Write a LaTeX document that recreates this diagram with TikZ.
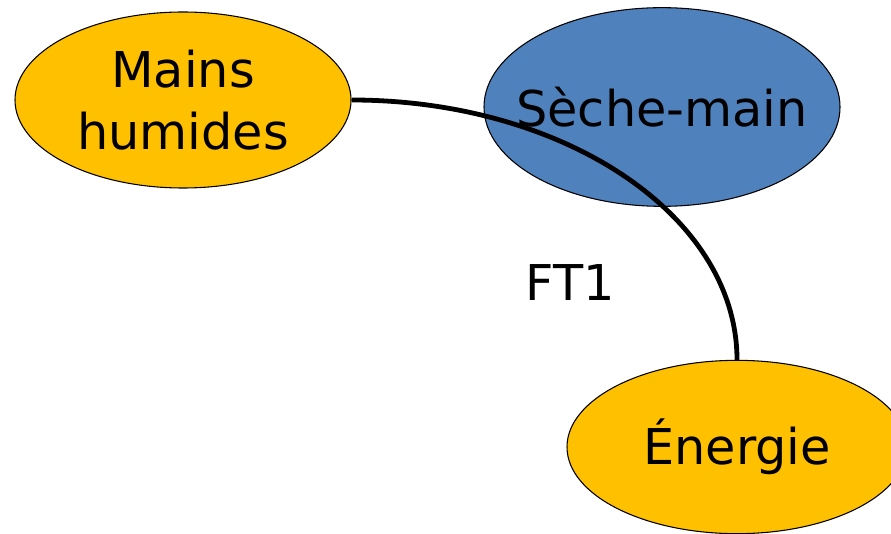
\documentclass[tikz,border=0pt]{standalone}
\usepackage{fontspec}
\setmainfont{DejaVu Sans}
\usetikzlibrary{shapes.geometric}
\definecolor{ideaorange}{HTML}{FFC000}
\definecolor{ideablue}{HTML}{4F81BD}
\tikzset{
  bubble/.style={ellipse, draw=black, line width=0.8pt, inner sep=0pt},
  orangebubble/.style={bubble, fill=ideaorange},
  bluebubble/.style={bubble, fill=ideablue},
  caption/.style={font=\fontsize{37}{47}\selectfont, align=center, text=black, inner sep=0pt},
  link/.style={line width=3.6pt}
}
\begin{document}
\begin{tikzpicture}[x=0.75pt,y=-0.75pt]
  \useasboundingbox (0,0) rectangle (891,534);
  \fill[white] (0,0) rectangle (891,534);
  % bubbles
  \node[orangebubble, minimum width=252pt, minimum height=132pt] (mh) at (183,100) {};
  \node[bluebubble, minimum width=267pt, minimum height=149pt] (sm) at (662,107) {};
  \node[orangebubble, minimum width=255pt, minimum height=130pt] (en) at (737,447) {};
  % connector
  \draw[link] (mh.east) .. controls +(213,0) and +(0,-144) .. (en.north);
  % captions
  \node[caption] (mhtext) at (mh.center) {Mains\\humides};
  \node[caption] (smtext) at (sm.center) {Sèche-main};
  \node[caption] (entext) at (en.center) {Énergie};
  \node[caption] (ft) at (570,283) {FT1};
\end{tikzpicture}
\end{document}
